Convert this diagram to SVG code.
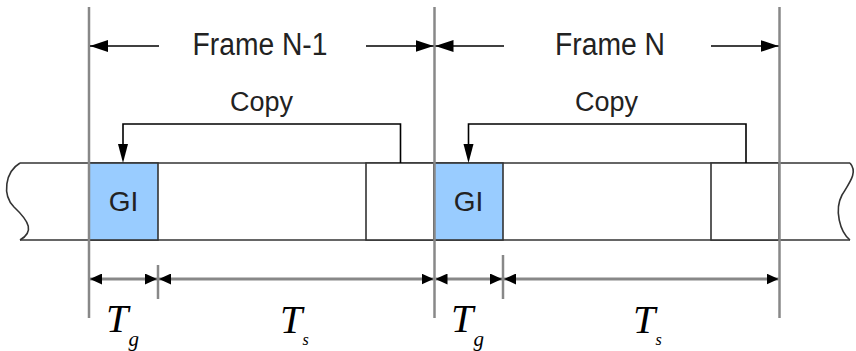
<svg xmlns="http://www.w3.org/2000/svg" width="856" height="351" viewBox="0 0 856 351">
<defs>
<marker id="ah" viewBox="0 0 18 12" refX="18" refY="6" markerWidth="18" markerHeight="12" markerUnits="userSpaceOnUse" orient="auto">
<path d="M0,0 L18,6 L0,12 Z" fill="#000"/>
</marker>
<marker id="ahs" viewBox="0 0 12 11" refX="12" refY="5.5" markerWidth="12" markerHeight="11" markerUnits="userSpaceOnUse" orient="auto">
<path d="M0,0 L12,5.5 L0,11 Z" fill="#000"/>
</marker>
</defs>
<style>
.vl{stroke:#888;stroke-width:2.5;fill:none}
.strip{stroke:#333;stroke-width:1.6;fill:none}
.box{stroke:#333;stroke-width:1.6;fill:#fff}
.gi{stroke:#333;stroke-width:1.6;fill:#99ccff}
.fr{stroke:#000;stroke-width:1.6;fill:none;marker-end:url(#ah)}
.cp{stroke:#000;stroke-width:1.6;fill:none}
.dim{stroke:#888;stroke-width:3;fill:none;marker-end:url(#ahs)}
.lbl{font-family:"Liberation Sans",Arial,sans-serif;fill:#222}
.t{font-family:"Liberation Serif","Times New Roman",serif;font-style:italic;fill:#000}
</style>
<rect width="856" height="351" fill="#fff"/>
<g id="strip">
<line class="strip" x1="20" y1="163" x2="850" y2="163"/>
<line class="strip" x1="20" y1="240" x2="850" y2="240"/>
<path class="strip" d="M20,163 C5,172 2,195 14,207 C30,222 34,232 20,240"/>
<path class="strip" d="M850,163 C858,172 850,182 842,195 C834,210 840,232 850,240"/>
</g>
<g id="gi1">
<rect class="gi" x="89" y="163" width="69" height="77"/>
<text class="lbl" x="123.5" y="211" font-size="28" text-anchor="middle">GI</text>
</g>
<g id="cp1box"><rect class="box" x="366" y="163" width="68" height="77"/></g>
<g id="gi2">
<rect class="gi" x="434" y="163" width="69" height="77"/>
<text class="lbl" x="468.5" y="211" font-size="28" text-anchor="middle">GI</text>
</g>
<g id="cp2box"><rect class="box" x="711" y="163" width="68" height="77"/></g>
<g id="boundaries">
<line class="vl" x1="89" y1="7" x2="89" y2="318"/>
<line class="vl" x1="434.5" y1="7" x2="434.5" y2="318"/>
<line class="vl" x1="779.5" y1="7" x2="779.5" y2="318"/>
</g>
<g id="connectors">
<line class="fr" x1="159" y1="46" x2="90" y2="46"/>
<line class="fr" x1="366" y1="46" x2="433.5" y2="46"/>
<line class="fr" x1="504" y1="46" x2="435.5" y2="46"/>
<line class="fr" x1="711" y1="46" x2="778.5" y2="46"/>
<path class="cp" d="M400.5,163 V124 H123 V145"/>
<path d="M118,144 L123,163 L128,144 Z" fill="#000"/>
<path class="cp" d="M746,163 V124 H468.5 V145"/>
<path d="M463.5,144 L468.5,163 L473.5,144 Z" fill="#000"/>
<line class="vl" x1="158" y1="265" x2="158" y2="299"/>
<line class="vl" x1="503" y1="255" x2="503" y2="299"/>
<line class="dim" x1="120" y1="279" x2="90" y2="279"/>
<line class="dim" x1="120" y1="279" x2="157" y2="279"/>
<line class="dim" x1="300" y1="279" x2="159" y2="279"/>
<line class="dim" x1="300" y1="279" x2="433.5" y2="279"/>
<line class="dim" x1="470" y1="279" x2="435.5" y2="279"/>
<line class="dim" x1="470" y1="279" x2="502" y2="279"/>
<line class="dim" x1="640" y1="279" x2="504" y2="279"/>
<line class="dim" x1="640" y1="279" x2="778.5" y2="279"/>
</g>
<g id="labels">
<text class="lbl" x="260" y="55" font-size="31" text-anchor="middle" textLength="135" lengthAdjust="spacingAndGlyphs">Frame N-1</text>
<text class="lbl" x="610" y="55" font-size="31" text-anchor="middle" textLength="110" lengthAdjust="spacingAndGlyphs">Frame N</text>
<text class="lbl" x="261.5" y="111" font-size="27" text-anchor="middle">Copy</text>
<text class="lbl" x="606.5" y="111" font-size="27" text-anchor="middle">Copy</text>
<text class="t" x="106" y="332" font-size="40">T</text>
<text class="t" x="128.5" y="346" font-size="21">g</text>
<text class="t" x="280" y="333" font-size="40">T</text>
<text class="t" x="302.5" y="345" font-size="16">s</text>
<text class="t" x="451" y="332" font-size="40">T</text>
<text class="t" x="473.5" y="346" font-size="21">g</text>
<text class="t" x="633" y="333" font-size="40">T</text>
<text class="t" x="655.5" y="345" font-size="16">s</text>
</g>
</svg>
